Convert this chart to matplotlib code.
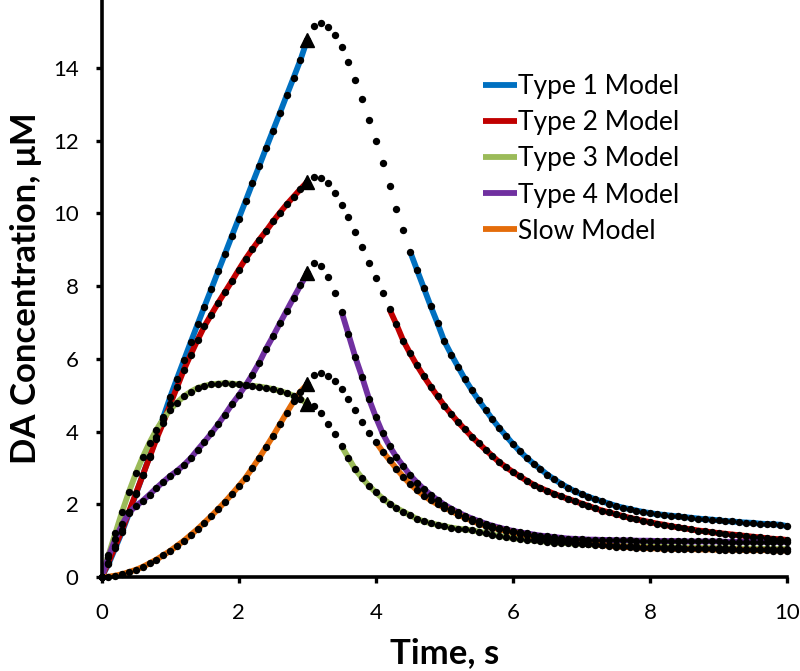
import numpy as np
import matplotlib
matplotlib.use('Agg')
import matplotlib.pyplot as plt

plt.rcParams['font.family'] = ['Lato', 'DejaVu Sans']

# sampling grid of the recordings (s)
time_s = np.round(np.arange(101) * 0.1, 1)

type1 = [0, 0.35, 0.8, 1.25, 1.75, 2.28, 2.8, 3.32, 3.85, 4.4,
         4.95, 5.46, 5.96, 6.46, 6.95, 7.44, 7.92, 8.41, 8.89, 9.38,
         9.86, 10.34, 10.83, 11.31, 11.8, 12.28, 12.76, 13.25, 13.73, 14.22,
         14.78, 15.15, 15.24, 15.12, 14.92, 14.58, 14.17, 13.68, 13.15, 12.58,
         12.0, 11.38, 10.75, 10.12, 9.55, 8.95, 8.45, 7.95, 7.45, 6.98,
         6.48, 6.12, 5.78, 5.44, 5.14, 4.86, 4.6, 4.34, 4.1, 3.88,
         3.66, 3.46, 3.28, 3.12, 2.97, 2.82, 2.69, 2.57, 2.46, 2.36,
         2.28, 2.21, 2.14, 2.08, 2.02, 1.96, 1.91, 1.87, 1.83, 1.79,
         1.76, 1.73, 1.71, 1.69, 1.67, 1.65, 1.63, 1.61, 1.59, 1.58,
         1.56, 1.54, 1.53, 1.51, 1.5, 1.49, 1.47, 1.46, 1.45, 1.44,
         1.40]
type2 = [0, 0.4, 0.85, 1.3, 1.8, 2.3, 2.8, 3.3, 3.8, 4.25,
         4.75, 5.22, 5.7, 6.12, 6.52, 6.9, 7.22, 7.54, 7.84, 8.14,
         8.45, 8.75, 9.02, 9.28, 9.52, 9.78, 10.02, 10.25, 10.46, 10.67,
         10.87, 11.01, 10.97, 10.83, 10.56, 10.24, 9.89, 9.49, 9.08, 8.65,
         8.23, 7.8, 7.36, 6.95, 6.5, 6.15, 5.82, 5.52, 5.24, 4.97,
         4.71, 4.48, 4.26, 4.06, 3.86, 3.68, 3.5, 3.33, 3.16, 3.02,
         2.89, 2.77, 2.65, 2.54, 2.45, 2.37, 2.29, 2.22, 2.15, 2.09,
         2.02, 1.96, 1.89, 1.83, 1.78, 1.73, 1.68, 1.63, 1.59, 1.55,
         1.51, 1.47, 1.44, 1.4, 1.37, 1.34, 1.31, 1.28, 1.26, 1.23,
         1.21, 1.19, 1.17, 1.15, 1.13, 1.11, 1.09, 1.07, 1.05, 1.04,
         1.02]
type3 = [0, 0.6, 1.2, 1.8, 2.35, 2.85, 3.3, 3.7, 4.05, 4.35,
         4.6, 4.8, 4.97, 5.1, 5.2, 5.26, 5.3, 5.32, 5.33, 5.32,
         5.3, 5.28, 5.26, 5.24, 5.21, 5.17, 5.12, 5.06, 4.99, 4.9,
         4.76, 4.7, 4.52, 4.21, 3.93, 3.6, 3.28, 2.96, 2.72, 2.51,
         2.33, 2.16, 2.02, 1.9, 1.8, 1.7, 1.6, 1.53, 1.48, 1.44,
         1.4, 1.36, 1.33, 1.31, 1.29, 1.25, 1.21, 1.17, 1.13, 1.1,
         1.07, 1.05, 1.03, 1.01, 0.99, 0.97, 0.95, 0.94, 0.93, 0.92,
         0.91, 0.9, 0.89, 0.88, 0.87, 0.87, 0.86, 0.85, 0.85, 0.84,
         0.84, 0.83, 0.83, 0.82, 0.82, 0.81, 0.81, 0.8, 0.8, 0.8,
         0.79, 0.79, 0.79, 0.78, 0.78, 0.78, 0.78, 0.77, 0.77, 0.77,
         0.77]
type4 = [0, 0.55, 1.05, 1.45, 1.78, 1.95, 2.1, 2.27, 2.45, 2.62,
         2.78, 2.92, 3.08, 3.27, 3.5, 3.72, 3.95, 4.2, 4.47, 4.75,
         5.0, 5.27, 5.57, 5.9, 6.28, 6.62, 6.98, 7.33, 7.68, 8.02,
         8.35, 8.63, 8.55, 8.26, 7.82, 7.3, 6.68, 6.05, 5.5, 4.9,
         4.4, 3.95, 3.6, 3.3, 3.05, 2.8, 2.6, 2.42, 2.26, 2.12,
         1.99, 1.88, 1.78, 1.69, 1.61, 1.54, 1.47, 1.41, 1.36, 1.31,
         1.27, 1.23, 1.2, 1.17, 1.14, 1.12, 1.1, 1.08, 1.06, 1.05,
         1.04, 1.03, 1.03, 1.02, 1.02, 1.01, 1.01, 1.01, 1.0, 1.0,
         1.0, 0.99, 0.99, 0.99, 0.99, 0.98, 0.98, 0.98, 0.98, 0.98,
         0.98, 0.97, 0.97, 0.97, 0.97, 0.97, 0.97, 0.97, 0.97, 0.97,
         0.97]
slow = [0, 0.01, 0.04, 0.08, 0.14, 0.2, 0.28, 0.38, 0.48, 0.6,
        0.72, 0.86, 1.0, 1.16, 1.32, 1.5, 1.68, 1.87, 2.07, 2.28,
        2.5, 2.73, 3.0, 3.28, 3.58, 3.88, 4.2, 4.52, 4.83, 5.1,
        5.3, 5.55, 5.6, 5.53, 5.4, 5.17, 4.9, 4.6, 4.27, 3.97,
        3.72, 3.45, 3.22, 2.98, 2.76, 2.56, 2.39, 2.24, 2.11, 2.0,
        1.91, 1.82, 1.72, 1.63, 1.55, 1.47, 1.41, 1.36, 1.31, 1.27,
        1.23, 1.19, 1.15, 1.12, 1.08, 1.05, 1.02, 1.0, 0.98, 0.96,
        0.94, 0.92, 0.9, 0.88, 0.86, 0.84, 0.83, 0.82, 0.81, 0.8,
        0.79, 0.79, 0.78, 0.78, 0.77, 0.77, 0.77, 0.76, 0.76, 0.76,
        0.75, 0.75, 0.75, 0.75, 0.74, 0.74, 0.74, 0.74, 0.73, 0.73,
        0.73]

series_names = ['Type 1 Model', 'Type 2 Model', 'Type 3 Model', 'Type 4 Model', 'Slow Model']
series_data = [type1, type2, type3, type4, slow]
colors = ['#0070C0', '#C00000', '#9BBB59', '#7030A0', '#E46C0A']
stim_end = 3.0                       # end of stimulation (s)
decay_fit_start = [4.5, 4.2, 3.5, 3.5, 4.0]  # model shown again from here (s)

fig = plt.figure(figsize=(8, 6.71), dpi=100)
ax = fig.add_axes([0.127, 0.140, 0.857, 0.860])

for name, vals, col, t_fit in zip(series_names, series_data, colors, decay_fit_start):
    vals = np.array(vals)
    rise = time_s <= stim_end
    fall = time_s >= t_fit - 1e-9
    ax.plot(time_s[rise], vals[rise], color=col, lw=4.2, solid_capstyle='butt', label=name, zorder=2)
    ax.plot(time_s[fall], vals[fall], color=col, lw=4.2, solid_capstyle='butt', zorder=2)

for vals in series_data:
    ax.plot(time_s, vals, 'o', color='black', ms=5.3, mec='none', zorder=3, clip_on=False)
    idx = int(np.argmin(np.abs(time_s - stim_end)))
    ax.plot(time_s[idx], vals[idx], '^', color='black', ms=10, zorder=4)

ax.set_xlim(0, 10)
ax.set_ylim(0, 15.87)
ax.set_xticks(range(0, 11, 2))
ax.set_yticks(range(0, 15, 2))
ax.spines['top'].set_visible(False)
ax.spines['right'].set_visible(False)
for s in ['left', 'bottom']:
    ax.spines[s].set_linewidth(2.6)
ax.tick_params(width=2.4, length=4.5, labelsize=16, color='black')
ax.tick_params(axis='x', pad=14)
ax.tick_params(axis='y', pad=12)

ax.set_xlabel('Time, s', fontsize=25, fontweight='bold', labelpad=10)
ax.set_ylabel('DA Concentration, μM', fontsize=25, fontweight='bold', labelpad=8)

ax.legend(loc='upper left', bbox_to_anchor=(0.59, 0.905), bbox_transform=fig.transFigure,
          frameon=False, fontsize=19, handlelength=1.3, handletextpad=0.05,
          labelspacing=0.42, borderaxespad=0)

fig.savefig('out.png', dpi=100)
